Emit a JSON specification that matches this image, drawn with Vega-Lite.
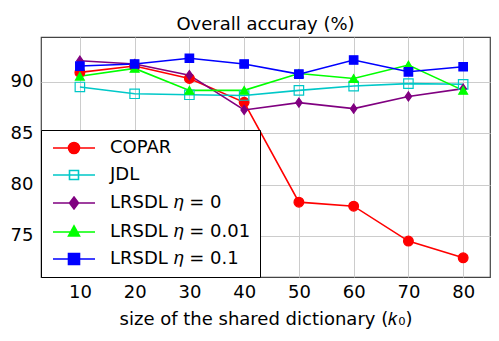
{
  "$schema": "https://vega.github.io/schema/vega-lite/v6.json",
  "width": 449,
  "height": 240,
  "autosize": "none",
  "padding": {"left": 41, "top": 37, "right": 9, "bottom": 64},
  "config": {
    "font": "DejaVu Sans",
    "view": {"stroke": "#444444", "strokeWidth": 1.2},
    "axis": {
      "grid": true, "gridColor": "#cccccc", "gridWidth": 1,
      "domain": false, "ticks": false,
      "labelFontSize": 18, "labelColor": "black",
      "titleFontSize": 18, "titleFontWeight": "normal", "titleColor": "black"
    }
  },
  "title": {"text": "Overall accuray (%)", "fontSize": 18, "fontWeight": "normal", "color": "black", "offset": 5, "frame": "group", "baseline": "bottom", "dy": 20},
  "data": {"values": [
    {"k": 10, "method": "COPAR", "acc": 90.93},
    {"k": 20, "method": "COPAR", "acc": 91.55},
    {"k": 30, "method": "COPAR", "acc": 90.34},
    {"k": 40, "method": "COPAR", "acc": 88.02},
    {"k": 50, "method": "COPAR", "acc": 78.29},
    {"k": 60, "method": "COPAR", "acc": 77.9},
    {"k": 70, "method": "COPAR", "acc": 74.5},
    {"k": 80, "method": "COPAR", "acc": 72.87},
    {"k": 10, "method": "JDL", "acc": 89.51},
    {"k": 20, "method": "JDL", "acc": 88.85},
    {"k": 30, "method": "JDL", "acc": 88.75},
    {"k": 40, "method": "JDL", "acc": 88.68},
    {"k": 50, "method": "JDL", "acc": 89.18},
    {"k": 60, "method": "JDL", "acc": 89.6},
    {"k": 70, "method": "JDL", "acc": 89.84},
    {"k": 80, "method": "JDL", "acc": 89.77},
    {"k": 10, "method": "LRSDL 𝜂 = 0", "acc": 92.07},
    {"k": 20, "method": "LRSDL 𝜂 = 0", "acc": 91.75},
    {"k": 30, "method": "LRSDL 𝜂 = 0", "acc": 90.66},
    {"k": 40, "method": "LRSDL 𝜂 = 0", "acc": 87.27},
    {"k": 50, "method": "LRSDL 𝜂 = 0", "acc": 87.99},
    {"k": 60, "method": "LRSDL 𝜂 = 0", "acc": 87.4},
    {"k": 70, "method": "LRSDL 𝜂 = 0", "acc": 88.59},
    {"k": 80, "method": "LRSDL 𝜂 = 0", "acc": 89.35},
    {"k": 10, "method": "LRSDL 𝜂 = 0.01", "acc": 90.56},
    {"k": 20, "method": "LRSDL 𝜂 = 0.01", "acc": 91.32},
    {"k": 30, "method": "LRSDL 𝜂 = 0.01", "acc": 89.18},
    {"k": 40, "method": "LRSDL 𝜂 = 0.01", "acc": 89.18},
    {"k": 50, "method": "LRSDL 𝜂 = 0.01", "acc": 90.83},
    {"k": 60, "method": "LRSDL 𝜂 = 0.01", "acc": 90.34},
    {"k": 70, "method": "LRSDL 𝜂 = 0.01", "acc": 91.65},
    {"k": 80, "method": "LRSDL 𝜂 = 0.01", "acc": 89.18},
    {"k": 10, "method": "LRSDL 𝜂 = 0.1", "acc": 91.55},
    {"k": 20, "method": "LRSDL 𝜂 = 0.1", "acc": 91.75},
    {"k": 30, "method": "LRSDL 𝜂 = 0.1", "acc": 92.31},
    {"k": 40, "method": "LRSDL 𝜂 = 0.1", "acc": 91.75},
    {"k": 50, "method": "LRSDL 𝜂 = 0.1", "acc": 90.76},
    {"k": 60, "method": "LRSDL 𝜂 = 0.1", "acc": 92.14},
    {"k": 70, "method": "LRSDL 𝜂 = 0.1", "acc": 90.99},
    {"k": 80, "method": "LRSDL 𝜂 = 0.1", "acc": 91.48}
  ]},
  "layer": [
    {
      "mark": {"type": "line", "strokeWidth": 1.6},
      "encoding": {
        "x": {"field": "k", "type": "quantitative", "scale": {"domain": [2.9, 84.9], "nice": false, "zero": false},
              "axis": {"values": [10, 20, 30, 40, 50, 60, 70, 80], "title": "size of the shared dictionary (𝑘₀)", "labelPadding": 6, "titlePadding": 9}},
        "y": {"field": "acc", "type": "quantitative", "scale": {"domain": [71.0, 94.38], "nice": false, "zero": false},
              "axis": {"values": [75, 80, 85, 90], "title": null, "labelPadding": 8}},
        "stroke": {"field": "method", "type": "nominal", "legend": null,
                   "scale": {"domain": ["COPAR", "JDL", "LRSDL 𝜂 = 0", "LRSDL 𝜂 = 0.01", "LRSDL 𝜂 = 0.1"],
                             "range": ["#ff0000", "#00c8c8", "#800080", "#00ff00", "#0000ff"]}}
      }
    },
    {
      "mark": {"type": "point", "filled": true, "opacity": 1, "strokeWidth": 1.2},
      "encoding": {
        "x": {"field": "k", "type": "quantitative"},
        "y": {"field": "acc", "type": "quantitative"},
        "stroke": {"field": "method", "type": "nominal", "legend": null,
                   "scale": {"domain": ["COPAR", "JDL", "LRSDL 𝜂 = 0", "LRSDL 𝜂 = 0.01", "LRSDL 𝜂 = 0.1"],
                             "range": ["#ff0000", "#00c8c8", "#800080", "#00ff00", "#0000ff"]}},
        "fill": {"field": "method", "type": "nominal", "legend": null,
                 "scale": {"domain": ["COPAR", "JDL", "LRSDL 𝜂 = 0", "LRSDL 𝜂 = 0.01", "LRSDL 𝜂 = 0.1"],
                           "range": ["#ff0000", "transparent", "#800080", "#00ff00", "#0000ff"]}},
        "shape": {"field": "method", "type": "nominal", "legend": null,
                  "scale": {"domain": ["COPAR", "JDL", "LRSDL 𝜂 = 0", "LRSDL 𝜂 = 0.01", "LRSDL 𝜂 = 0.1"],
                            "range": ["circle", "square", "M0,-1L0.7,0L0,1L-0.7,0Z", "triangle-up", "square"]}},
        "size": {"field": "method", "type": "nominal", "legend": null,
                 "scale": {"domain": ["COPAR", "JDL", "LRSDL 𝜂 = 0", "LRSDL 𝜂 = 0.01", "LRSDL 𝜂 = 0.1"],
                           "range": [95, 72, 144, 110, 121]}}
      }
    },
    {
      "transform": [{"filter": "false"}],
      "mark": {"type": "point", "filled": true, "opacity": 1, "size": 100, "strokeWidth": 1.6},
      "encoding": {
        "stroke": {"field": "method", "type": "nominal",
                   "scale": {"domain": ["COPAR", "JDL", "LRSDL 𝜂 = 0", "LRSDL 𝜂 = 0.01", "LRSDL 𝜂 = 0.1"],
                             "range": ["#ff0000", "#00c8c8", "#800080", "#00ff00", "#0000ff"]},
                   "legend": {"orient": "bottom-left", "offset": 0, "title": null, "labelFontSize": 18, "labelColor": "black",
                              "symbolSize": 100, "symbolStrokeWidth": 1.6, "strokeColor": "black", "fillColor": "white",
                              "padding": 9, "rowPadding": 9, "symbolOffset": 15, "labelOffset": 27}},
        "fill": {"field": "method", "type": "nominal",
                 "scale": {"domain": ["COPAR", "JDL", "LRSDL 𝜂 = 0", "LRSDL 𝜂 = 0.01", "LRSDL 𝜂 = 0.1"],
                           "range": ["#ff0000", "transparent", "#800080", "#00ff00", "#0000ff"]}},
        "shape": {"field": "method", "type": "nominal",
                  "scale": {"domain": ["COPAR", "JDL", "LRSDL 𝜂 = 0", "LRSDL 𝜂 = 0.01", "LRSDL 𝜂 = 0.1"],
                            "range": [
                              "M-4.2,0H4.2M-1.1,0A1.1,1.1,0,1,0,1.1,0A1.1,1.1,0,1,0,-1.1,0Z",
                              "M-4.2,0H4.2M-0.9,-0.9H0.9V0.9H-0.9Z",
                              "M-4.2,0H4.2M0,-1.2L0.9,0L0,1.2L-0.9,0Z",
                              "M-4.2,0H4.2M0,-1.2L1.1,0.8H-1.1Z",
                              "M-4.2,0H4.2M-1.1,-1.1H1.1V1.1H-1.1Z"
                            ]}}
      }
    }
  ],
  "resolve": {"scale": {"stroke": "independent", "fill": "independent", "shape": "independent", "size": "independent"}}
}
